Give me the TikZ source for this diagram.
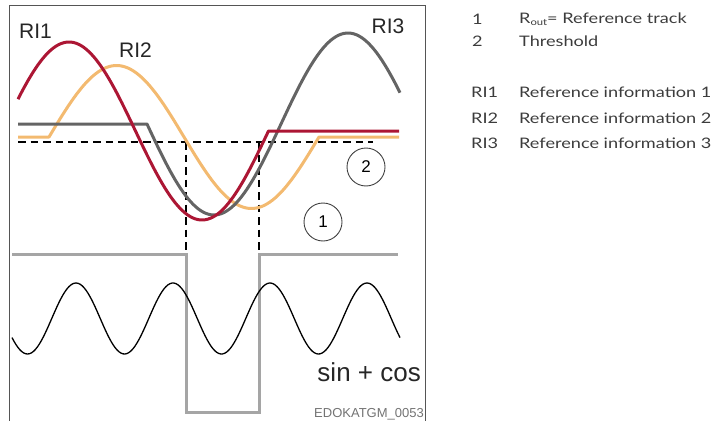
\documentclass[tikz,border=0pt]{standalone}
\usepackage{fontspec}
\usepackage{graphicx}
\setmainfont{Liberation Sans}
\newfontfamily\legfont{Lato}
\definecolor{ricrimson}{RGB}{172,22,52}
\definecolor{ripeach}{RGB}{243,186,112}
\definecolor{rigray}{RGB}{100,100,100}
\definecolor{sqgray}{RGB}{165,165,165}
\definecolor{framegray}{RGB}{85,85,85}
\definecolor{legtext}{RGB}{60,60,60}
\begin{document}
\begin{tikzpicture}[x=1pt,y=-1pt,
  curve/.style={line width=3pt,line join=round},
  thresh/.style={line width=1.4pt,dash pattern=on 7.5pt off 5pt},
  lbl/.style={inner sep=0pt,font=\fontsize{21}{21}\selectfont,text=black!85},
  numcircle/.style={circle,draw=black!75,line width=0.9pt,minimum size=38pt,inner sep=0pt,font=\fontsize{17}{17}\selectfont},
  legnum/.style={anchor=west,inner sep=0pt,text=legtext,font=\legfont\fontsize{14.5}{14.5}\selectfont},
]
\useasboundingbox (0,0) rectangle (714,420);
% frame
\draw[framegray,line width=1pt] (9.5,430) -- (9.5,6) -- (425.5,6) -- (425.5,430);
% square wave (reference track)
\draw[sqgray,line width=3pt,line join=miter] (12,254) -- (186,254) -- (186,412) -- (259,412) -- (259,254) -- (398,254);
% sin + cos
\draw[black,line width=1.3pt] plot[domain=12:400,samples=200,smooth] (\x,{318.5-35.5*cos((\x-76)*3.71134)});
% threshold
\draw[black,thresh] (18,142) -- (373,142);
\draw[black,thresh] (186,142) -- (186,253);
\draw[black,thresh] (259,142) -- (259,253);
% RI2 (peach)
\draw[ripeach,curve] (18,137) -- (49,137) -- plot[domain=49:319,samples=100] (\x,{137-71.5*sin((\x-49)*1.33333)}) -- (399,137);
% RI3 (gray)
\draw[rigray,curve] (18,124) -- (147,124) -- plot[domain=147:400,samples=100] (\x,{124+91*sin((\x-147)*1.34328)});
% RI1 (crimson)
\draw[ricrimson,curve] plot[domain=18:268.5,samples=100] (\x,{131-89*cos((\x-69)*1.35338)}) -- (399,131);
% labels
\node[lbl] (ri1) at (35.5,31.5) {RI1};
\node[lbl] (ri2) at (135.5,50.5) {RI2};
\node[lbl] (ri3) at (388,26.5) {RI3};
\node[numcircle] (c2) at (366,167) {2};
\node[numcircle] (c1) at (323,222) {1};
\node[inner sep=0pt,anchor=base east,font=\fontsize{26}{26}\selectfont,text=black!85] (sc) at (421,381) {sin + cos};
\node[inner sep=0pt,anchor=base east,font=\fontsize{13}{13}\selectfont,text=black!55] (code) at (424,417) {EDOKATGM\_0053};
% legend
\node[legnum] (l1) at (472,19) {\scalebox{1.25}[1]{1}};
\node[legnum] (l1t) at (519,19) {\scalebox{1.25}[1]{R\raisebox{-0.35ex}{\fontsize{9}{9}\selectfont out}= Reference track}};
\node[legnum] (l2) at (472,41) {\scalebox{1.25}[1]{2}};
\node[legnum] (l2t) at (519,41) {\scalebox{1.25}[1]{Threshold}};
\node[legnum] (l3) at (471,92) {\scalebox{1.25}[1]{RI1}};
\node[legnum] (l3t) at (519,92) {\scalebox{1.25}[1]{Reference information 1}};
\node[legnum] (l4) at (471,118) {\scalebox{1.25}[1]{RI2}};
\node[legnum] (l4t) at (519,118) {\scalebox{1.25}[1]{Reference information 2}};
\node[legnum] (l5) at (471,143) {\scalebox{1.25}[1]{RI3}};
\node[legnum] (l5t) at (519,143) {\scalebox{1.25}[1]{Reference information 3}};
\end{tikzpicture}
\end{document}
